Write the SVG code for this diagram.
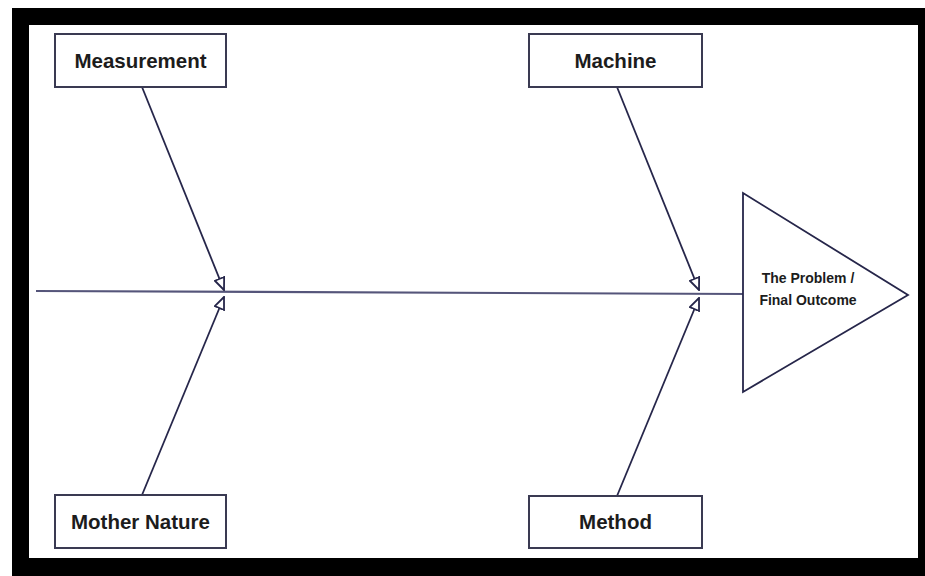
<svg xmlns="http://www.w3.org/2000/svg" width="925" height="576" viewBox="0 0 925 576">
<style>
.box{fill:#fff;stroke:#3a3a52;stroke-width:2}
.lbl{font-family:"Liberation Sans",Arial,sans-serif;font-weight:bold;font-size:20.5px;fill:#1c1c1c;text-anchor:middle}
.tri{font-family:"Liberation Sans",Arial,sans-serif;font-weight:bold;font-size:14px;fill:#1c1c1c;text-anchor:middle}
.bone{stroke:#26264a;stroke-width:1.8;fill:none}
</style>
<defs>
<marker id="ah" viewBox="0 0 14 12" refX="13" refY="6" markerWidth="14" markerHeight="12" markerUnits="userSpaceOnUse" orient="auto">
<path d="M1,1 L13,6 L1,11 Z" fill="#fff" stroke="#26264a" stroke-width="1.8"/>
</marker>
</defs>
<rect x="0" y="0" width="925" height="576" fill="#fff"/>
<rect x="12" y="8" width="913" height="568" fill="#000"/>
<rect x="29" y="25" width="889" height="533" fill="#fff"/>
<g id="connectors">
<line x1="36" y1="291" x2="744" y2="294" stroke="#55557a" stroke-width="2.2"/>
<line class="bone" x1="142" y1="87" x2="224" y2="290" marker-end="url(#ah)"/>
<line class="bone" x1="142" y1="495" x2="224" y2="297" marker-end="url(#ah)"/>
<line class="bone" x1="617" y1="87" x2="699" y2="290" marker-end="url(#ah)"/>
<line class="bone" x1="617" y1="496" x2="699" y2="298" marker-end="url(#ah)"/>
</g>
<g id="measurement">
<rect class="box" x="55" y="34" width="171" height="53"/>
<text class="lbl" x="140.5" y="68">Measurement</text>
</g>
<g id="machine">
<rect class="box" x="529" y="34" width="173" height="53"/>
<text class="lbl" x="615.5" y="68">Machine</text>
</g>
<g id="mother-nature">
<rect class="box" x="55" y="495" width="171" height="53"/>
<text class="lbl" x="140.5" y="529">Mother Nature</text>
</g>
<g id="method">
<rect class="box" x="529" y="496" width="173" height="52"/>
<text class="lbl" x="615.5" y="529">Method</text>
</g>
<g id="problem">
<polygon points="743,193 908,295 743,392" fill="#fff" stroke="#26264a" stroke-width="1.8"/>
<text class="tri" x="808" y="283">The Problem /</text>
<text class="tri" x="808" y="305">Final Outcome</text>
</g>
</svg>
